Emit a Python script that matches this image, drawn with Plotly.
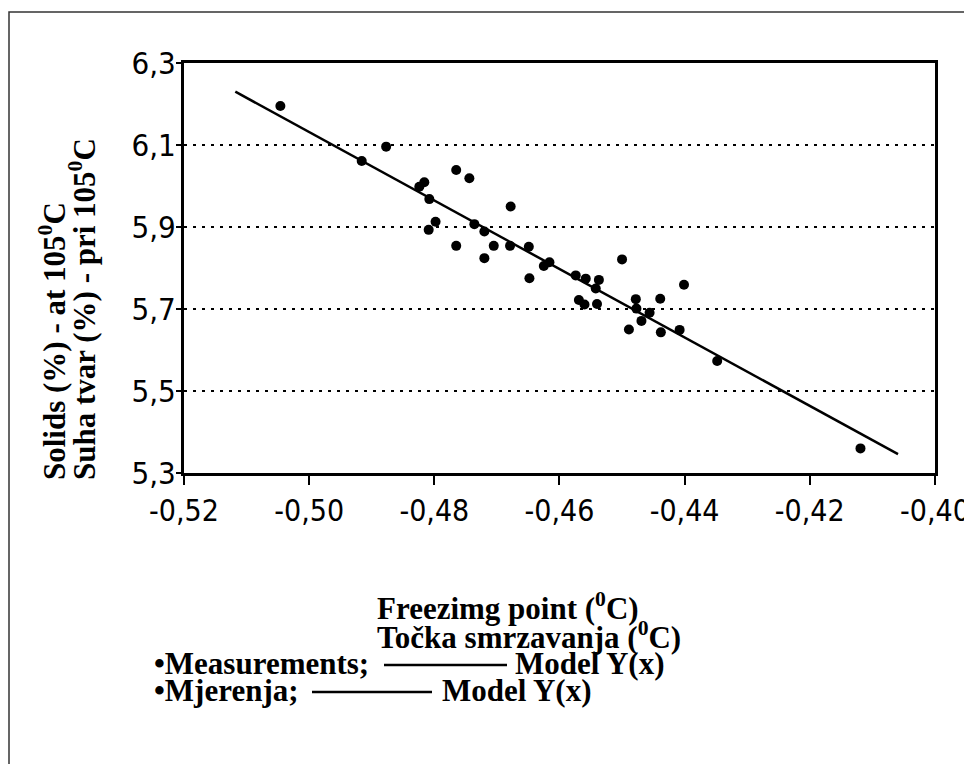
import plotly.graph_objects as go

# Measurements (freezing point in °C, solids in %)
freezing_point = [
    -0.5046, -0.4877, -0.4916, -0.4765, -0.4744, -0.4816, -0.4824, -0.4808,
    -0.4678, -0.4798, -0.4809, -0.4736, -0.4720, -0.4765, -0.4705, -0.4679,
    -0.4649, -0.4720, -0.4625, -0.4616, -0.4648, -0.4500, -0.4574, -0.4558,
    -0.4537, -0.4542, -0.4569, -0.4560, -0.4540, -0.4478, -0.4439, -0.4401,
    -0.4477, -0.4456, -0.4469, -0.4489, -0.4438, -0.4408, -0.4348, -0.4119,
]
solids = [
    6.195, 6.096, 6.061, 6.039, 6.019, 6.009, 5.998, 5.968,
    5.950, 5.913, 5.893, 5.907, 5.889, 5.854, 5.854, 5.854,
    5.852, 5.824, 5.805, 5.814, 5.775, 5.821, 5.782, 5.774,
    5.771, 5.750, 5.722, 5.711, 5.712, 5.724, 5.725, 5.759,
    5.701, 5.691, 5.671, 5.650, 5.643, 5.649, 5.573, 5.360,
]

# Model Y(x) line end points
model_x = [-0.5118, -0.4059]
model_y = [6.230, 5.346]

x_tick_vals = [-0.52, -0.50, -0.48, -0.46, -0.44, -0.42, -0.40]
x_tick_text = ["-0,52", "-0,50", "-0,48", "-0,46", "-0,44", "-0,42", "-0,40"]
y_tick_vals = [5.3, 5.5, 5.7, 5.9, 6.1, 6.3]
y_tick_text = ["5,3", "5,5", "5,7", "5,9", "6,1", "6,3"]

# page is drawn with an 8px body margin
OFF = 8
W, H = 972 - OFF, 764 - OFF
PLOT_L, PLOT_R, PLOT_T, PLOT_B = 184, 935, 63, 473   # page pixels
L, T = PLOT_L - OFF, PLOT_T - OFF
R, B = W - (PLOT_R - OFF), H - (PLOT_B - OFF)
PW, PH = PLOT_R - PLOT_L, PLOT_B - PLOT_T


def px(xp):
    return (xp - PLOT_L) / PW


def py(yp):
    return (PLOT_B - yp) / PH


SERIF = "Liberation Serif, Times New Roman, serif"
SANS = "DejaVu Sans Condensed, DejaVu Sans, sans-serif"

fig = go.Figure()
fig.add_trace(go.Scatter(
    x=model_x, y=model_y, mode="lines",
    line=dict(color="black", width=2.5), showlegend=False,
))
fig.add_trace(go.Scatter(
    x=freezing_point, y=solids, mode="markers",
    marker=dict(color="black", size=10), showlegend=False,
))

fig.update_xaxes(
    range=[-0.52, -0.39999], tickvals=x_tick_vals, ticktext=x_tick_text,
    showline=True, linecolor="black", linewidth=3, mirror=True,
    ticks="outside", ticklen=9, tickwidth=2, tickcolor="black",
    showgrid=False, zeroline=False, ticklabeloverflow="allow",
    automargin=False,
    tickfont=dict(family=SANS, size=30, color="black"),
)
fig.update_yaxes(
    range=[5.3, 6.3], tickvals=y_tick_vals, ticktext=y_tick_text,
    showline=True, linecolor="black", linewidth=3, mirror=True,
    ticks="outside", ticklen=5, tickwidth=2, tickcolor="black",
    ticklabelstandoff=-6,
    showgrid=True, gridcolor="black", gridwidth=2, griddash="3px,6px",
    zeroline=False, automargin=False,
    tickfont=dict(family=SANS, size=31, color="black"),
)

f_serif = dict(family=SERIF, size=31, color="black")
annotations = [
    dict(text="<b>Solids (%) - at 105<sup>0</sup>C</b>", x=px(52), y=py(482),
         textangle=-90, xanchor="center", yanchor="bottom"),
    dict(text="<b>Suha tvar (%) - pri 105<sup>0</sup>C</b>", x=px(82), y=py(482),
         textangle=-90, xanchor="center", yanchor="bottom"),
    dict(text="<b>Freezimg point (<sup>0</sup>C)</b>", x=px(375), y=py(606),
         xanchor="left", yanchor="middle"),
    dict(text="<b>Točka smrzavanja (<sup>0</sup>C)</b>", x=px(375), y=py(635),
         xanchor="left", yanchor="middle"),
    dict(text="<b>•Measurements;</b>", x=px(152), y=py(663),
         xanchor="left", yanchor="middle"),
    dict(text="<b>Model Y(x)</b>", x=px(513), y=py(663),
         xanchor="left", yanchor="middle"),
    dict(text="<b>•Mjerenja;</b>", x=px(152), y=py(690),
         xanchor="left", yanchor="middle"),
    dict(text="<b>Model Y(x)</b>", x=px(440), y=py(690),
         xanchor="left", yanchor="middle"),
]
for a in annotations:
    a.update(xref="paper", yref="paper", showarrow=False, font=f_serif)

shapes = [
    # outer frame
    dict(type="rect", xref="paper", yref="paper",
         x0=px(9), x1=px(969), y0=py(12), y1=py(780),
         line=dict(color="#333333", width=1.5)),
    # legend line samples
    dict(type="line", xref="paper", yref="paper",
         x0=px(384), x1=px(507), y0=py(665), y1=py(665),
         line=dict(color="black", width=2.5)),
    dict(type="line", xref="paper", yref="paper",
         x0=px(312), x1=px(432), y0=py(692), y1=py(692),
         line=dict(color="black", width=2.5)),
]

fig.update_layout(
    width=W, height=H,
    margin=dict(l=L, r=R, t=T, b=B, autoexpand=False),
    paper_bgcolor="white", plot_bgcolor="white",
    annotations=annotations, shapes=shapes,
    showlegend=False,
)

fig.write_html("out.html")
